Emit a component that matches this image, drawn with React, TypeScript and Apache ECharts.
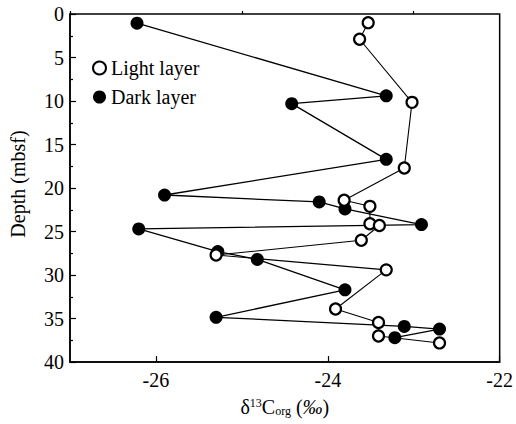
import React, { useEffect, useRef } from 'react';
import * as echarts from 'echarts';

// δ13Corg (‰) and depth (mbsf) for each layer type
const lightDelta = [-23.53, -23.63, -23.02, -23.11, -23.81, -23.51, -23.51, -23.40, -23.61, -25.30, -23.32, -23.91, -23.41, -23.41, -22.70];
const lightDepth = [1.0, 2.9, 10.15, 17.7, 21.4, 22.1, 24.1, 24.3, 26.0, 27.7, 29.4, 33.9, 35.45, 37.0, 37.8];
const darkDelta = [-26.22, -23.32, -24.42, -23.32, -25.90, -24.10, -23.80, -22.91, -26.20, -25.28, -24.82, -23.80, -25.30, -23.11, -22.70, -23.22];
const darkDepth = [1.06, 9.4, 10.3, 16.7, 20.8, 21.6, 22.4, 24.2, 24.7, 27.3, 28.2, 31.7, 34.85, 35.9, 36.2, 37.2];
const xMajorTicks = [-26, -24, -22];
const xMinorTicks = [-27, -25, -23];
const seriesNames = ['Light layer', 'Dark layer'];

const FONT = 'Liberation Serif';

export default function App() {
  const ref = useRef<HTMLDivElement>(null);
  useEffect(() => {
    if (!ref.current) return;
    const chart = echarts.init(ref.current, null, { renderer: 'svg' });
    const lightData = lightDelta.map((v, i) => [v, lightDepth[i]]);
    const darkData = darkDelta.map((v, i) => [v, darkDepth[i]]);
    chart.setOption({
      animation: false,
      backgroundColor: '#fff',
      textStyle: { fontFamily: FONT },
      grid: {
        left: 67, right: 11, top: 14, bottom: 57,
        show: true, borderColor: '#000', borderWidth: 1.5, backgroundColor: 'transparent',
      },
      legend: {
        orient: 'vertical',
        left: 92, top: 58, padding: 0,
        itemWidth: 13, itemHeight: 13, itemGap: 9,
        selectedMode: false,
        textStyle: { fontFamily: FONT, fontSize: 20, color: '#000', lineHeight: 16 },
        data: [
          { name: seriesNames[0], icon: 'circle', itemStyle: { color: '#fff', borderColor: '#000', borderWidth: 2 } },
          { name: seriesNames[1], icon: 'circle', itemStyle: { color: '#000', borderWidth: 0 } },
        ],
      },
      xAxis: [
        {
          type: 'value', min: -27, max: -22, position: 'bottom',
          axisLine: { show: true, onZero: false, lineStyle: { color: '#000', width: 1.5 } },
          axisTick: { show: true, inside: true, length: 6, customValues: xMajorTicks, lineStyle: { color: '#000', width: 1.2 } },
          axisLabel: { show: true, customValues: xMajorTicks, fontFamily: FONT, fontSize: 20, color: '#000', margin: 8 },
          splitLine: { show: false },
          name: '{a|δ}{sup|13}{a|C}{sub|org}{a| (}{i|‰}{a|)}',
          nameLocation: 'middle',
          nameGap: 24,
          nameTextStyle: {
            rich: {
              a: { fontFamily: FONT, fontSize: 20, color: '#000', lineHeight: 24 },
              sup: { fontFamily: FONT, fontSize: 12, color: '#000', lineHeight: 24, verticalAlign: 'top', padding: [2, 0, 0, 0] },
              sub: { fontFamily: FONT, fontSize: 12, color: '#000', lineHeight: 24, verticalAlign: 'bottom', padding: [0, 0, 2, 0] },
              i: { fontFamily: FONT, fontSize: 20, fontStyle: 'italic', color: '#000', lineHeight: 24 },
            },
          },
        },
        {
          type: 'value', min: -27, max: -22, position: 'bottom',
          axisLine: { show: false },
          axisTick: { show: true, inside: true, length: 3, customValues: xMinorTicks, lineStyle: { color: '#000', width: 1.2 } },
          axisLabel: { show: false },
          splitLine: { show: false },
        },
      ],
      yAxis: {
        type: 'value', min: 0, max: 40, interval: 5, inverse: true,
        axisLine: { show: true, onZero: false, lineStyle: { color: '#000', width: 1.5 } },
        axisTick: { show: true, inside: true, length: 6, lineStyle: { color: '#000', width: 1.2 } },
        minorTick: { show: true, splitNumber: 2, length: 3, lineStyle: { color: '#000', width: 1.2 } },
        axisLabel: { fontFamily: FONT, fontSize: 20, color: '#000', margin: 6 },
        splitLine: { show: false },
        name: 'Depth (mbsf)',
        nameLocation: 'middle',
        nameGap: 42,
        nameTextStyle: { fontFamily: FONT, fontSize: 20, color: '#000', padding: [0, 0, 0, 8] },
      },
      series: [
        {
          name: seriesNames[0], type: 'line', xAxisIndex: 0, data: lightData,
          symbol: 'circle', symbolSize: 11,
          itemStyle: { color: '#fff', borderColor: '#000', borderWidth: 2.2 },
          lineStyle: { color: '#000', width: 1.1 }, z: 3,
        },
        {
          name: seriesNames[1], type: 'line', xAxisIndex: 0, data: darkData,
          symbol: 'circle', symbolSize: 13,
          itemStyle: { color: '#000', borderWidth: 0 },
          lineStyle: { color: '#000', width: 1.3 }, z: 2,
        },
      ],
    });
    return () => chart.dispose();
  }, []);
  return <div ref={ref} style={{ position: 'fixed', left: 0, top: 0, width: 516, height: 424 }} />;
}
